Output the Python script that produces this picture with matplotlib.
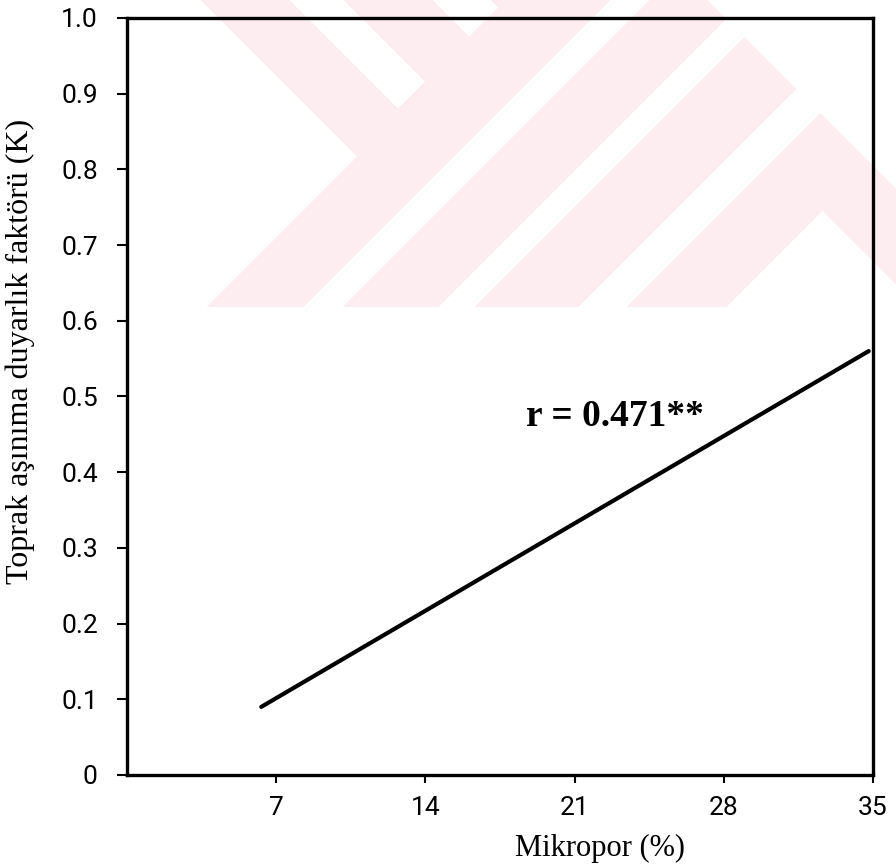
import numpy as np
import matplotlib
matplotlib.use("Agg")
import matplotlib.pyplot as plt

# regression line for K against micropore content
mikropor = [6.3, 34.8]
k_faktor = [0.09, 0.56]
r_text = "r = 0.471**"

x_ticks = [7, 14, 21, 28, 35]
y_ticks = [0, 0.1, 0.2, 0.3, 0.4, 0.5, 0.6, 0.7, 0.8, 0.9, 1.0]
y_ticklabels = ["0", "0.1", "0.2", "0.3", "0.4", "0.5", "0.6", "0.7", "0.8", "0.9", "1.0"]

W, H = 896, 864
fig = plt.figure(figsize=(W / 100, H / 100), dpi=100)

# faint pink background stamp (chevron bands), built in pixel space
yy, xx = np.mgrid[0:H, 0:W]
d = xx - yy
s = xx + yy
pink = ((d > 200) | (s > 512)) & (yy < 307)
white = (
    ((d >= 290) & (d <= 343) & (s < 506))
    | ((d >= 433) & (d <= 490) & (s < 505))
    | ((s >= 610) & (s <= 648))
    | ((s >= 745) & (s <= 780))
    | ((s >= 885) & (s <= 932))
    | ((s > 1032) & (d < 612))
    | (d > 707)
)
mask = pink & ~white
img = np.ones((H, W, 3))
img[mask] = np.array([253, 237, 241]) / 255.0
fig.figimage(img, xo=0, yo=0, origin="upper", zorder=-1)

ax = fig.add_axes([127 / W, 89 / H, 746 / W, 757 / H])
ax.set_facecolor("none")

ax.plot(mikropor, k_faktor, color="black", lw=3.0, solid_capstyle="round")

ax.set_xlim(0, 35)
ax.set_ylim(0, 1.0)

tick_font = {"family": ["Roboto", "DejaVu Sans"], "size": 19}
ax.set_xticks(x_ticks)
ax.set_xticklabels([str(t) for t in x_ticks], fontdict=tick_font)
ax.set_yticks(y_ticks)
ax.set_yticklabels(y_ticklabels, fontdict=tick_font)
ax.tick_params(axis="x", direction="out", length=6, width=1.5, pad=9)
ax.tick_params(axis="y", direction="out", length=7, width=1.5, pad=14)

for sp in ax.spines.values():
    sp.set_linewidth(2.4)
    sp.set_color("black")

serif = ["Liberation Serif", "DejaVu Serif"]
ax.set_xlabel("Mikropor (%)", family=serif, fontsize=22)
ax.xaxis.set_label_coords(0.634, -0.078)
ax.set_ylabel("Toprak aşınıma duyarlık faktörü (K)", family=serif, fontsize=23)
ax.yaxis.set_label_coords(-0.123, 0.56)

ax.text(18.7, 0.473, r_text, family=serif, fontsize=27, fontweight="bold",
        ha="left", va="center")

fig.savefig("out.png", dpi=100, facecolor="white")
